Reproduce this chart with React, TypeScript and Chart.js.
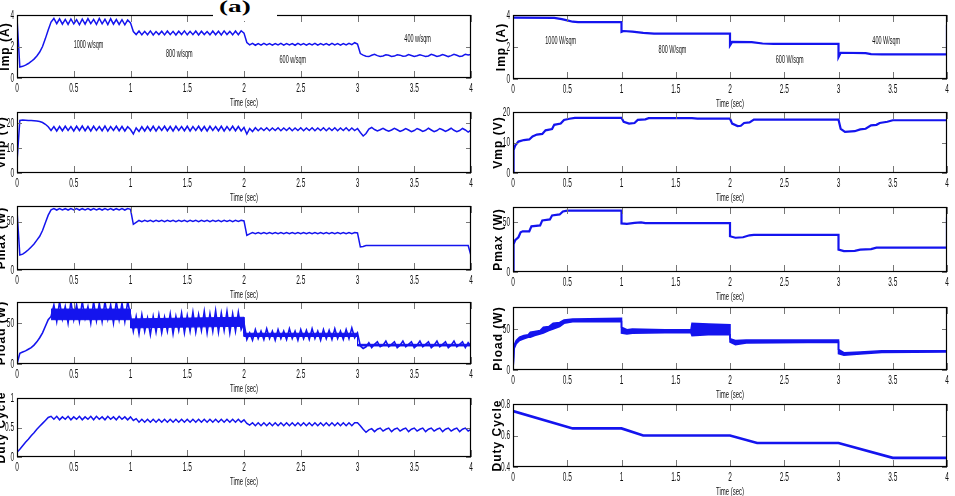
import React, { useEffect, useRef } from "react";
import { Chart, registerables } from "chart.js";

Chart.register(...registerables);

const BLUE = "#1414ee";
const TEXT_FONT = "'Liberation Sans', Arial, sans-serif";

// Simulated traces (left column) are sampled every 25 ms from 0 s to 4 s (161 samples).
const SIM_DT = 0.025;
const X_TICKS = [0, 0.5, 1, 1.5, 2, 2.5, 3, 3.5, 4];

// ---- left column: simulated response ----
const L_IMP = [
  3.8, 0.7, 0.74, 0.82, 0.92, 1.05, 1.2, 1.4, 1.65, 2.0,
  2.5, 3.05, 3.55, 3.78, 3.45, 3.76, 3.42, 3.72, 3.4, 3.75,
  3.44, 3.7, 3.38, 3.74, 3.42, 3.77, 3.45, 3.72, 3.4, 3.78,
  3.44, 3.73, 3.39, 3.76, 3.42, 3.71, 3.4, 3.7, 3.38, 3.68,
  3.5, 2.95, 2.76, 2.98, 2.74, 2.96, 2.75, 2.99, 2.73, 2.95,
  2.76, 2.97, 2.74, 2.98, 2.75, 2.96, 2.73, 2.97, 2.76, 2.99,
  2.74, 2.96, 2.75, 2.98, 2.73, 2.97, 2.76, 2.95, 2.74, 2.98,
  2.75, 2.97, 2.73, 2.99, 2.76, 2.96, 2.74, 2.98, 2.75, 3.0,
  2.85, 2.25, 2.1, 2.2, 2.08, 2.19, 2.09, 2.2, 2.1, 2.18,
  2.08, 2.19, 2.1, 2.2, 2.09, 2.18, 2.1, 2.19, 2.08, 2.2,
  2.1, 2.18, 2.09, 2.19, 2.1, 2.2, 2.08, 2.18, 2.1, 2.19,
  2.09, 2.2, 2.1, 2.18, 2.09, 2.19, 2.1, 2.2, 2.12, 2.24,
  2.15, 1.55, 1.45, 1.38, 1.36, 1.44, 1.5, 1.42, 1.36, 1.4,
  1.48, 1.44, 1.37, 1.39, 1.47, 1.45, 1.38, 1.4, 1.49, 1.43,
  1.37, 1.41, 1.48, 1.42, 1.36, 1.4, 1.5, 1.44, 1.37, 1.41,
  1.49, 1.43, 1.36, 1.42, 1.5, 1.44, 1.37, 1.4, 1.51, 1.46,
  1.5,
];

const L_VMP = [
  4.5, 21.0, 21.2, 21.1, 21.0, 21.0, 20.9, 20.8, 20.6, 20.2,
  19.5, 18.5, 17.0, 18.6, 16.8, 18.6, 16.9, 18.7, 17.0, 18.6,
  16.8, 18.7, 17.0, 18.8, 16.9, 18.6, 16.8, 18.7, 17.0, 18.6,
  16.9, 18.8, 16.8, 18.6, 17.0, 18.7, 16.9, 18.6, 16.8, 18.5,
  17.4, 15.6, 18.0, 16.6, 18.5, 16.8, 18.6, 16.9, 18.7, 16.8,
  18.6, 17.0, 18.7, 16.9, 18.6, 16.8, 18.7, 17.0, 18.6, 16.9,
  18.7, 16.8, 18.6, 17.0, 18.7, 16.9, 18.6, 16.8, 18.7, 17.0,
  18.6, 16.9, 18.7, 16.8, 18.6, 17.0, 18.7, 16.9, 18.6, 16.8,
  18.2, 15.6, 17.8, 16.6, 18.1, 16.9, 18.0, 17.0, 18.1, 16.9,
  18.0, 17.0, 18.1, 16.9, 18.0, 17.0, 18.1, 16.9, 18.0, 17.0,
  18.1, 16.9, 18.0, 17.0, 18.1, 16.9, 18.0, 17.0, 18.1, 16.9,
  18.0, 17.0, 18.1, 16.9, 18.0, 17.0, 18.1, 16.9, 18.0, 17.0,
  17.8, 16.2, 14.8, 15.8, 17.6, 18.2, 17.4, 16.8, 17.3, 17.9,
  17.2, 16.7, 17.2, 17.9, 17.3, 16.6, 17.1, 17.8, 17.2, 16.5,
  17.0, 17.8, 17.3, 16.6, 17.1, 17.9, 17.2, 16.5, 17.0, 17.8,
  17.3, 16.6, 17.2, 17.9, 17.1, 16.5, 17.0, 17.8, 17.2, 16.4,
  17.2,
];

const L_PMAX = [
  62.0, 15.5, 16.5, 18.5, 21.0, 24.0, 27.0, 31.0, 35.0, 41.0,
  49.0, 57.0, 62.5, 63.8, 62.3, 63.8, 62.4, 63.7, 62.3, 63.8,
  62.4, 63.8, 62.3, 63.7, 62.4, 63.8, 62.3, 63.8, 62.4, 63.7,
  62.3, 63.8, 62.4, 63.8, 62.3, 63.7, 62.4, 63.8, 62.3, 63.8,
  63.0, 47.5, 49.5, 51.5, 50.3, 51.6, 50.4, 51.6, 50.3, 51.6,
  50.4, 51.6, 50.3, 51.6, 50.4, 51.6, 50.3, 51.6, 50.4, 51.6,
  50.3, 51.6, 50.4, 51.6, 50.3, 51.6, 50.4, 51.6, 50.3, 51.6,
  50.4, 51.6, 50.3, 51.6, 50.4, 51.6, 50.3, 51.6, 50.4, 51.6,
  51.0, 36.0, 37.5, 38.8, 37.8, 38.9, 37.8, 38.9, 37.8, 38.9,
  37.8, 38.9, 37.8, 38.9, 37.8, 38.9, 37.8, 38.9, 37.8, 38.9,
  37.8, 38.9, 37.8, 38.9, 37.8, 38.9, 37.8, 38.9, 37.8, 38.9,
  37.8, 38.9, 37.8, 38.9, 37.8, 38.9, 37.8, 38.9, 37.8, 38.9,
  38.5, 24.0, 24.5, 25.5, 25.5, 25.5, 25.5, 25.5, 25.5, 25.5,
  25.5, 25.5, 25.5, 25.5, 25.5, 25.5, 25.5, 25.5, 25.5, 25.5,
  25.5, 25.5, 25.5, 25.5, 25.5, 25.5, 25.5, 25.5, 25.5, 25.5,
  25.5, 25.5, 25.5, 25.5, 25.5, 25.5, 25.5, 25.5, 25.5, 25.5,
  15.0,
];

const L_PLOAD = [
  0, 13, 14.5, 16, 18, 20, 23, 27, 32, 38,
  46, 54, 58, 72, 52, 76, 55, 70, 50, 76,
  54, 72, 52, 76, 56, 70, 50, 76, 53, 74,
  52, 76, 55, 72, 50, 76, 54, 74, 52, 76,
  60, 40, 58, 37, 60, 40, 56, 36, 58, 39,
  60, 38, 57, 40, 61, 37, 58, 41, 62, 38,
  59, 40, 63, 39, 60, 41, 64, 38, 61, 40,
  65, 39, 62, 41, 64, 38, 61, 40, 63, 42,
  50, 30, 38, 29, 42, 31, 40, 30, 43, 31,
  40, 29, 42, 31, 40, 30, 43, 31, 40, 29,
  42, 31, 41, 30, 43, 31, 40, 29, 42, 31,
  41, 30, 43, 31, 40, 30, 42, 31, 44, 32,
  38, 22, 19, 21, 26, 20, 24, 27, 21, 23,
  28, 21, 24, 27, 20, 23, 28, 21, 24, 27,
  20, 23, 28, 21, 24, 27, 20, 23, 28, 21,
  24, 27, 20, 23, 28, 21, 24, 27, 20, 26,
  22,
];

// dense core of the simulated load-power ripple (upper / lower edge)
const L_PLOAD_CORE_T = [0.3, 1.0, 1.0, 1.5, 2.0, 2.0, 3.0, 3.0, 4.0];
const L_PLOAD_CORE_HI = [67, 67, 55, 56, 57, 37.5, 37.5, 24, 24];
const L_PLOAD_CORE_LO = [54, 54, 44, 45, 46, 33.5, 33.5, 22, 22];

const L_DUTY = [
  0.08, 0.13, 0.19, 0.25, 0.3, 0.36, 0.41, 0.47, 0.52, 0.57,
  0.62, 0.67, 0.69, 0.64, 0.69, 0.63, 0.68, 0.64, 0.69, 0.63,
  0.68, 0.64, 0.69, 0.63, 0.68, 0.64, 0.69, 0.63, 0.69, 0.64,
  0.68, 0.63, 0.69, 0.64, 0.68, 0.63, 0.69, 0.64, 0.68, 0.63,
  0.68, 0.62, 0.65, 0.59, 0.64, 0.59, 0.64, 0.59, 0.64, 0.59,
  0.64, 0.59, 0.64, 0.59, 0.64, 0.59, 0.64, 0.59, 0.64, 0.59,
  0.64, 0.59, 0.64, 0.59, 0.64, 0.59, 0.64, 0.59, 0.64, 0.59,
  0.64, 0.59, 0.64, 0.59, 0.64, 0.59, 0.64, 0.59, 0.64, 0.59,
  0.63, 0.57, 0.54, 0.58, 0.53, 0.58, 0.53, 0.58, 0.53, 0.58,
  0.53, 0.58, 0.53, 0.58, 0.53, 0.58, 0.53, 0.58, 0.53, 0.58,
  0.53, 0.58, 0.53, 0.58, 0.53, 0.58, 0.53, 0.58, 0.53, 0.58,
  0.53, 0.58, 0.53, 0.58, 0.53, 0.58, 0.53, 0.58, 0.53, 0.58,
  0.58, 0.53, 0.47, 0.42, 0.46, 0.48, 0.43, 0.47, 0.49, 0.44,
  0.47, 0.49, 0.43, 0.47, 0.49, 0.44, 0.47, 0.49, 0.43, 0.47,
  0.49, 0.44, 0.47, 0.49, 0.43, 0.47, 0.49, 0.44, 0.47, 0.49,
  0.43, 0.47, 0.49, 0.44, 0.47, 0.49, 0.43, 0.47, 0.49, 0.44,
  0.47,
];

// ---- right column: measured response (time, value) ----
const R_IMP_T = [0, 0.38, 0.45, 0.5, 0.55, 0.6, 1.0, 1.0, 1.02, 1.1, 1.2, 1.3, 2.0, 2.0, 2.02, 2.2, 2.3, 2.4, 3.0, 3.0, 3.02, 3.25, 3.3, 3.4, 4.0, 4.0];
const R_IMP = [3.84, 3.82, 3.74, 3.66, 3.58, 3.56, 3.56, 2.95, 3.0, 2.96, 2.88, 2.84, 2.84, 2.1, 2.32, 2.3, 2.22, 2.2, 2.2, 1.37, 1.64, 1.62, 1.56, 1.54, 1.54, 3.37];

const R_VMP_T = [0, 0.005, 0.02, 0.05, 0.1, 0.15, 0.18, 0.22, 0.27, 0.3, 0.36, 0.38, 0.44, 0.47, 0.52, 0.57, 1.0, 1.02, 1.07, 1.12, 1.15, 1.22, 1.25, 1.65, 1.7, 2.0, 2.02, 2.07, 2.1, 2.13, 2.18, 2.22, 3.0, 3.02, 3.06, 3.15, 3.2, 3.25, 3.3, 3.35, 3.38, 3.45, 3.5, 4.0];
const R_VMP = [0, 7.5, 9.0, 10.3, 10.8, 11.0, 12.0, 12.6, 12.8, 14.0, 14.4, 15.8, 16.2, 17.4, 17.8, 18.1, 18.1, 16.8, 16.2, 16.4, 17.4, 17.6, 18.0, 18.0, 17.8, 17.8, 16.2, 15.4, 15.5, 16.4, 16.6, 17.5, 17.5, 14.5, 13.5, 13.7, 14.3, 14.5, 15.6, 15.8, 16.4, 16.8, 17.3, 17.3];

const R_PMAX_T = [0, 0.005, 0.02, 0.05, 0.07, 0.09, 0.15, 0.17, 0.25, 0.27, 0.34, 0.36, 0.43, 0.46, 0.5, 1.0, 1.0, 1.05, 1.12, 1.18, 1.22, 2.0, 2.0, 2.05, 2.12, 2.18, 2.22, 3.0, 3.0, 3.05, 3.15, 3.2, 3.3, 3.35, 4.0, 4.0];
const R_PMAX = [0, 28, 32, 35, 40, 41, 41, 46, 47, 52, 53, 57, 58, 61, 61.8, 61.8, 49, 48.5, 49.5, 50, 49.2, 49.2, 36, 34.5, 35, 37, 37.5, 37.5, 22.5, 21, 21.3, 22.5, 23, 24.5, 24.5, 55];

// measured load power: upper and lower edge of the ripple band
const R_PLOAD_T = [0, 0.01, 0.03, 0.06, 0.1, 0.14, 0.16, 0.2, 0.25, 0.28, 0.33, 0.37, 0.43, 0.47, 0.55, 1.0, 1.0, 1.05, 1.1, 1.4, 1.64, 1.65, 1.8, 2.0, 2.0, 2.05, 2.15, 3.0, 3.0, 3.05, 3.2, 3.4, 4.0];
const R_PLOAD_HI = [0, 30, 36, 40, 42, 43, 46, 47, 48, 52, 53, 57, 58, 61, 62, 63, 52, 49, 50, 49, 49, 57, 56, 55, 38, 36, 36.5, 36.5, 25, 21, 22, 23.5, 23.5];
const R_PLOAD_LO = [0, 26, 32, 36, 38, 40, 40, 42, 44, 45, 48, 50, 53, 57, 59, 59, 45, 44, 45, 45.5, 45.5, 42, 43, 43, 34, 31, 33, 34, 20, 18, 19.5, 21.5, 22];

const R_DUTY_T = [0, 0.55, 1.0, 1.2, 2.0, 2.25, 3.0, 3.5, 4.0];
const R_DUTY = [0.755, 0.645, 0.645, 0.6, 0.6, 0.552, 0.552, 0.458, 0.458];

// ---- axis ticks ----
const Y_TICKS_IMP = [0, 2, 4];
const Y_TICKS_VMP = [0, 10, 20];
const Y_TICKS_POWER = [0, 50];
const Y_TICKS_DUTY_SIM = [0, 0.5, 1];
const Y_TICKS_DUTY_EXP = [0.4, 0.6, 0.8];

// ---- irradiance labels ----
const IRR_LEVELS = [1000, 800, 600, 400];
const L_NOTE_T = [0.63, 1.43, 2.43, 3.53];
const L_NOTE_V = [2.1, 1.52, 1.11, 2.48];
const R_NOTE_T = [0.44, 1.47, 2.55, 3.44];
const R_NOTE_V = [2.38, 1.81, 1.19, 2.38];

type Trace = { xs: number[]; ys: number[]; width: number; fillToPrev?: boolean };
type Note = { t: number; v: number; text: string };
type PanelSpec = {
  key: string;
  plot: [number, number, number, number];
  yMin: number;
  yMax: number;
  yTicks: number[];
  yTitle: string;
  yTitleGap: number;
  traces: Trace[];
  notes?: Note[];
};

const simTrace = (ys: number[]): Trace => ({
  xs: ys.map((_, i) => +(i * SIM_DT).toFixed(3)),
  ys,
  width: 1.5,
});
const expTrace = (xs: number[], ys: number[], width = 2.2, fillToPrev = false): Trace => ({ xs, ys, width, fillToPrev });

const L_NOTES: Note[] = IRR_LEVELS.map((g, i) => ({ t: L_NOTE_T[i], v: L_NOTE_V[i], text: `${g} w/sqm` }));
const R_NOTES: Note[] = IRR_LEVELS.map((g, i) => ({ t: R_NOTE_T[i], v: R_NOTE_V[i], text: `${g} W/sqm` }));

const PANELS: PanelSpec[] = [
  { key: "l1", plot: [17, 15, 471, 78], yMin: 0, yMax: 4, yTicks: Y_TICKS_IMP, yTitle: "Imp (A)", yTitleGap: 8, traces: [simTrace(L_IMP)], notes: L_NOTES },
  { key: "l2", plot: [17, 112, 471, 173], yMin: 0, yMax: 24.4, yTicks: Y_TICKS_VMP, yTitle: "Vmp (V)", yTitleGap: 12, traces: [simTrace(L_VMP)] },
  { key: "l3", plot: [17, 206, 471, 270], yMin: 0, yMax: 66.5, yTicks: Y_TICKS_POWER, yTitle: "Pmax (W)", yTitleGap: 12, traces: [simTrace(L_PMAX)] },
  {
    key: "l4", plot: [17, 302, 471, 364], yMin: 0, yMax: 75.6, yTicks: Y_TICKS_POWER, yTitle: "Pload (W)", yTitleGap: 12,
    traces: [
      expTrace(L_PLOAD_CORE_T, L_PLOAD_CORE_HI, 1),
      expTrace(L_PLOAD_CORE_T, L_PLOAD_CORE_LO, 1, true),
      { ...simTrace(L_PLOAD), width: 1.6 },
    ],
  },
  { key: "l5", plot: [17, 398, 471, 457], yMin: 0, yMax: 1, yTicks: Y_TICKS_DUTY_SIM, yTitle: "Duty Cycle", yTitleGap: 12, traces: [simTrace(L_DUTY)] },
  { key: "r1", plot: [513, 15, 947, 79], yMin: 0, yMax: 4, yTicks: Y_TICKS_IMP, yTitle: "Imp (A)", yTitleGap: 8, traces: [expTrace(R_IMP_T, R_IMP)], notes: R_NOTES },
  { key: "r2", plot: [513, 112, 947, 173], yMin: 0, yMax: 20, yTicks: Y_TICKS_VMP, yTitle: "Vmp (V)", yTitleGap: 11, traces: [expTrace(R_VMP_T, R_VMP)] },
  { key: "r3", plot: [513, 207, 947, 272], yMin: 0, yMax: 65.5, yTicks: Y_TICKS_POWER, yTitle: "Pmax (W)", yTitleGap: 11, traces: [expTrace(R_PMAX_T, R_PMAX)] },
  {
    key: "r4", plot: [513, 307, 947, 370], yMin: 0, yMax: 76.8, yTicks: Y_TICKS_POWER, yTitle: "Pload (W)", yTitleGap: 11,
    traces: [expTrace(R_PLOAD_T, R_PLOAD_HI, 1.6), expTrace(R_PLOAD_T, R_PLOAD_LO, 1.6, true)],
  },
  { key: "r5", plot: [513, 404, 947, 467], yMin: 0.4, yMax: 0.8, yTicks: Y_TICKS_DUTY_EXP, yTitle: "Duty Cycle", yTitleGap: 12, traces: [expTrace(R_DUTY_T, R_DUTY, 2.6)] },
];

// space around each plot box inside its canvas
const M = { l: 40, t: 10, r: 10, b: 34 };

function squeezed(ctx: CanvasRenderingContext2D, text: string, x: number, y: number, size: number, sx: number, align: CanvasTextAlign) {
  ctx.save();
  ctx.font = `${size}px ${TEXT_FONT}`;
  ctx.translate(x, y);
  ctx.scale(sx, 1);
  ctx.textAlign = align;
  ctx.textBaseline = "middle";
  ctx.fillText(text, 0, 0);
  ctx.restore();
}

// Box, inward ticks, condensed tick labels, axis titles and irradiance notes.
function panelDecor(spec: PanelSpec) {
  return {
    id: "panelDecor",
    afterDraw(chart: any) {
      const { ctx, chartArea: a } = chart;
      const xs = chart.scales.x;
      const ys = chart.scales.y;
      ctx.save();
      ctx.strokeStyle = "#777";
      ctx.lineWidth = 1;
      ctx.beginPath();
      for (const t of X_TICKS) {
        const px = Math.round(xs.getPixelForValue(t)) + 0.5;
        ctx.moveTo(px, a.top);
        ctx.lineTo(px, a.top + 7);
        ctx.moveTo(px, a.bottom);
        ctx.lineTo(px, a.bottom - 7);
      }
      for (const v of spec.yTicks) {
        const py = Math.round(ys.getPixelForValue(v)) + 0.5;
        ctx.moveTo(a.left, py);
        ctx.lineTo(a.left + 5, py);
        ctx.moveTo(a.right, py);
        ctx.lineTo(a.right - 5, py);
      }
      ctx.stroke();

      ctx.strokeStyle = "#000";
      ctx.lineWidth = 1.2;
      ctx.strokeRect(a.left + 0.5, a.top + 0.5, a.right - a.left - 1, a.bottom - a.top - 1);

      ctx.fillStyle = "#111";
      for (const t of X_TICKS) squeezed(ctx, String(t), xs.getPixelForValue(t), a.bottom + 10, 13, 0.5, "center");
      for (const v of spec.yTicks) squeezed(ctx, String(v), a.left - 3, ys.getPixelForValue(v), 13, 0.5, "right");
      squeezed(ctx, "Time (sec)", (a.left + a.right) / 2, a.bottom + 25, 10, 0.6, "center");
      for (const n of spec.notes ?? []) {
        squeezed(ctx, n.text, xs.getPixelForValue(n.t), ys.getPixelForValue(n.v), 10, 0.55, "center");
      }

      ctx.translate(a.left - spec.yTitleGap, (a.top + a.bottom) / 2);
      ctx.rotate(-Math.PI / 2);
      ctx.font = `bold 12px ${TEXT_FONT}`;
      (ctx as any).letterSpacing = "1px";
      ctx.textAlign = "center";
      ctx.textBaseline = "alphabetic";
      ctx.fillStyle = "#000";
      ctx.fillText(spec.yTitle, 0, 0);
      ctx.restore();
    },
  };
}

function Panel({ spec }: { spec: PanelSpec }) {
  const ref = useRef<HTMLCanvasElement>(null);
  const [l, t, r, b] = spec.plot;
  const w = r - l + M.l + M.r;
  const h = b - t + M.t + M.b;

  useEffect(() => {
    if (!ref.current) return;
    const chart = new Chart(ref.current, {
      type: "line",
      data: {
        datasets: spec.traces.map((tr) => ({
          data: tr.xs.map((x, k) => ({ x, y: tr.ys[k] })),
          borderColor: BLUE,
          backgroundColor: BLUE,
          borderWidth: tr.width,
          pointRadius: 0,
          tension: 0,
          fill: tr.fillToPrev ? "-1" : false,
        })),
      },
      options: {
        responsive: false,
        animation: false,
        devicePixelRatio: 1,
        events: [],
        layout: { padding: { left: 0, top: M.t, right: M.r, bottom: 0 } },
        plugins: { legend: { display: false }, tooltip: { enabled: false } },
        scales: {
          x: {
            type: "linear",
            min: 0,
            max: 4,
            grid: { display: false },
            border: { display: false },
            ticks: { display: false },
            afterBuildTicks: (s: any) => {
              s.ticks = X_TICKS.map((value) => ({ value }));
            },
            afterFit: (s: any) => {
              s.height = M.b;
            },
          },
          y: {
            type: "linear",
            min: spec.yMin,
            max: spec.yMax,
            grid: { display: false },
            border: { display: false },
            ticks: { display: false },
            afterBuildTicks: (s: any) => {
              s.ticks = spec.yTicks.map((value) => ({ value }));
            },
            afterFit: (s: any) => {
              s.width = M.l;
            },
          },
        },
      } as any,
      plugins: [panelDecor(spec)],
    });
    return () => chart.destroy();
  }, [spec]);

  return (
    <canvas
      ref={ref}
      width={w}
      height={h}
      style={{ position: "absolute", left: l - M.l, top: t - M.t, width: w, height: h }}
    />
  );
}

export default function App() {
  return (
    <div
      style={{
        position: "fixed",
        left: 0,
        top: 0,
        width: 955,
        height: 496,
        overflow: "hidden",
        background: "#fff",
      }}
    >
      {PANELS.map((p) => (
        <Panel key={p.key} spec={p} />
      ))}
      <div style={{ position: "absolute", left: 213, top: 0, width: 64, height: 21, background: "#fff" }} />
      <div
        style={{
          position: "absolute",
          left: 219,
          top: -2,
          font: "bold 17px 'Liberation Serif', 'Times New Roman', serif",
          lineHeight: "18px",
          color: "#000",
          transform: "scaleX(1.6)",
          transformOrigin: "left top",
        }}
      >
        (a)
      </div>
    </div>
  );
}
